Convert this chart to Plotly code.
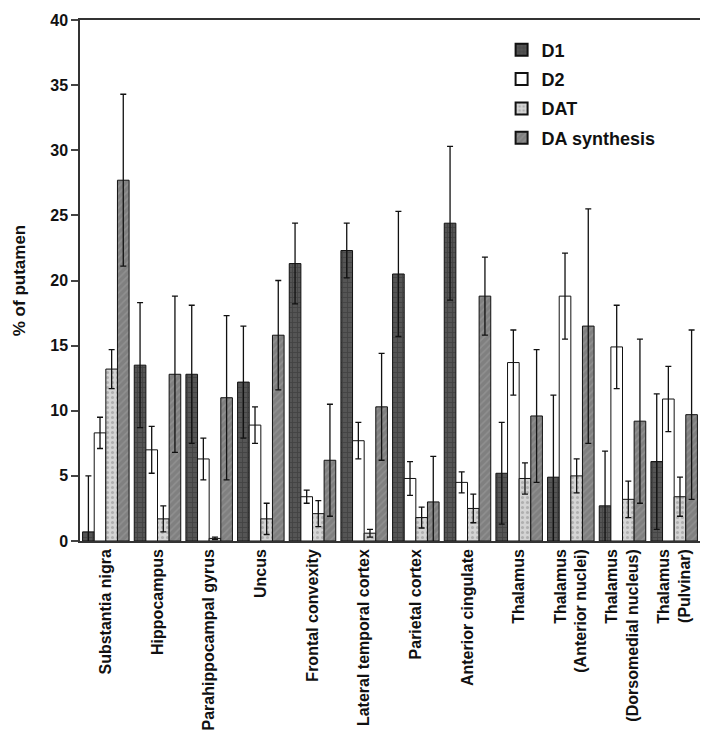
import plotly.graph_objects as go

categories = [
    "Substantia nigra", "Hippocampus", "Parahippocampal gyrus", "Uncus",
    "Frontal convexity", "Lateral temporal cortex", "Parietal cortex",
    "Anterior cingulate", "Thalamus", "Thalamus<br>(Anterior nuclei)",
    "Thalamus<br>(Dorsomedial nucleus)", "Thalamus<br>(Pulvinar)",
]

d1 = [0.7, 13.5, 12.8, 12.2, 21.3, 22.3, 20.5, 24.4, 5.2, 4.9, 2.7, 6.1]
d1_top = [5.0, 18.3, 18.1, 16.5, 24.4, 24.4, 25.3, 30.3, 9.1, 11.2, 6.9, 11.3]

d2 = [8.3, 7.0, 6.3, 8.9, 3.4, 7.7, 4.8, 4.5, 13.7, 18.8, 14.9, 10.9]
d2_top = [9.5, 8.8, 7.9, 10.3, 3.9, 9.1, 6.1, 5.3, 16.2, 22.1, 18.1, 13.4]

dat = [13.2, 1.7, 0.2, 1.7, 2.1, 0.6, 1.8, 2.5, 4.8, 5.0, 3.2, 3.4]
dat_top = [14.7, 2.7, 0.3, 2.9, 3.1, 0.9, 2.6, 3.6, 6.0, 6.3, 4.6, 4.9]

da_syn = [27.7, 12.8, 11.0, 15.8, 6.2, 10.3, 3.0, 18.8, 9.6, 16.5, 9.2, 9.7]
da_syn_top = [34.3, 18.8, 17.3, 20.0, 10.5, 14.4, 6.5, 21.8, 14.7, 25.5, 15.5, 16.2]

y_ticks = [0, 5, 10, 15, 20, 25, 30, 35, 40]

series = [
    ("D1", d1, d1_top, "#555555", "+", "#2e2e2e"),
    ("D2", d2, d2_top, "#ffffff", "", "#ffffff"),
    ("DAT", dat, dat_top, "#d4d4d4", ".", "#8a8a8a"),
    ("DA synthesis", da_syn, da_syn_top, "#808080", "/", "#a0a0a0"),
]

fig = go.Figure()
for name, vals, tops, color, shape, fg in series:
    err = [t - v for t, v in zip(tops, vals)]
    fig.add_trace(go.Bar(
        name=name, x=categories, y=vals, legendgroup=name,
        marker=dict(color=color, line=dict(color="#111", width=1),
                    pattern=dict(shape=shape, fgcolor=fg, size=5, solidity=0.3)),
        error_y=dict(type="data", array=err, visible=True,
                     color="#111", thickness=1.3, width=3),
    ))

font_family = "Liberation Sans, Arial, sans-serif"
fig.update_layout(
    width=701, height=744,
    margin=dict(l=80, r=1, t=20, b=203, autoexpand=False),
    paper_bgcolor="white", plot_bgcolor="white",
    barmode="group", bargap=0.1, bargroupgap=0.0,
    font=dict(family=font_family, color="#111"),
    legend=dict(x=0.68, y=0.978, xanchor="left", yanchor="top",
                bgcolor="rgba(0,0,0,0)", tracegroupgap=3,
                font=dict(size=18, family=font_family, weight="bold"),
                itemsizing="constant"),
    showlegend=True,
    xaxis=dict(showline=True, linecolor="#333", linewidth=1.5, mirror=True,
               tickangle=-90, ticks="", automargin=False,
               tickfont=dict(size=16, family=font_family, weight="bold"),
               range=[-0.5, 11.5]),
    yaxis=dict(range=[0, 40], tickvals=y_ticks, showline=True, linecolor="#333",
               linewidth=1.5, ticks="outside", ticklen=7, tickwidth=1.5,
               showgrid=False, zeroline=False, automargin=False,
               tickfont=dict(size=16, family=font_family, weight="bold"),
               title=dict(text="% of putamen", standoff=20,
                          font=dict(size=17, family=font_family, weight="bold"))),
)

fig.write_html("out.html", config={"displayModeBar": False},
               post_script="document.body.style.margin='0';document.body.style.overflow='hidden';")
